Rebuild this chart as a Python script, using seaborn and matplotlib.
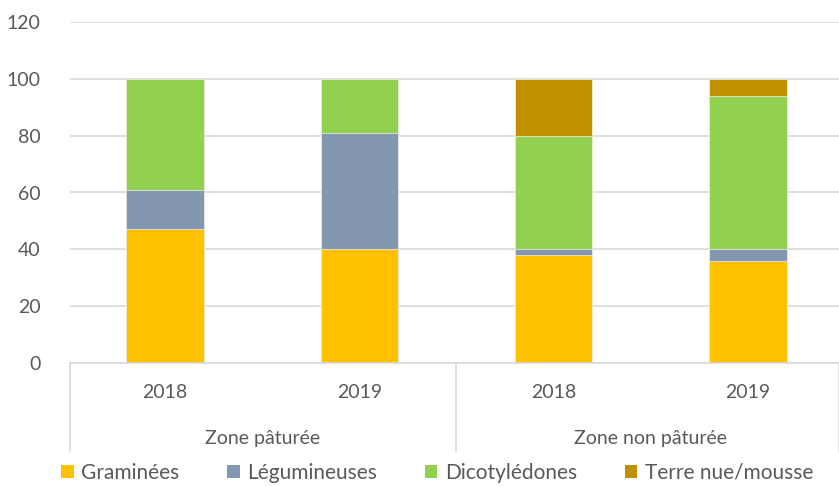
import numpy as np
import pandas as pd
import matplotlib
matplotlib.use("Agg")
import matplotlib.pyplot as plt
from matplotlib.patches import Patch
import seaborn as sns

# data
years = ["2018", "2019", "2018", "2019"]
zones = ["Zone pâturée", "Zone non pâturée"]
graminees = [47, 40, 38, 36]
legumineuses = [14, 41, 2, 4]
dicotyledones = [39, 19, 40, 54]
terre_nue = [0, 0, 20, 6]

series_names = ["Graminées", "Légumineuses", "Dicotylédones", "Terre nue/mousse"]
colors = ["#FFC000", "#8497B0", "#92D050", "#BF9000"]

sns.set_style("white")
plt.rcParams["font.family"] = ["Lato", "DejaVu Sans"]
text_color = "#595959"

fig = plt.figure(figsize=(8.39, 4.86), dpi=100)
ax = fig.add_axes([70 / 839, 123 / 486, 769 / 839, 341 / 486])

positions = ["p0", "p1", "p2", "p3"]
values = np.array([graminees, legumineuses, dicotyledones, terre_nue], dtype=float)
tops = np.cumsum(values, axis=0)

# stacked bars: draw cumulative totals from top layer down
for i in range(len(series_names) - 1, -1, -1):
    df = pd.DataFrame({"pos": positions, "val": tops[i]})
    sns.barplot(data=df, x="pos", y="val", color=colors[i], width=0.4,
                saturation=1, ax=ax, zorder=2, edgecolor="#F2F2F2", linewidth=0.5)

ax.set_ylim(0, 120)
ax.set_yticks(range(0, 121, 20))
ax.set_xlim(-0.49, 3.47)
ax.yaxis.grid(True, color="#D9D9D9", linewidth=1.2, zorder=0)
ax.set_axisbelow(True)
for s in ["top", "right", "left"]:
    ax.spines[s].set_visible(False)
ax.spines["bottom"].set_color("#D9D9D9")
ax.spines["bottom"].set_linewidth(1.2)
ax.set_xlabel("")
ax.set_ylabel("")
ax.tick_params(axis="y", length=0, labelsize=14, labelcolor=text_color, pad=21)
ax.set_xticks(range(4))
ax.set_xticklabels(years)
ax.tick_params(axis="x", length=0, labelsize=14, labelcolor=text_color, pad=15)

# group separators and group labels
trans = ax.get_xaxis_transform()
for xv in [-0.49, 1.5, 3.47]:
    ax.plot([xv, xv], [0, -0.26], transform=trans, color="#D9D9D9",
            linewidth=1.2, clip_on=False)
ax.text(0.5, -0.222, zones[0], transform=trans, ha="center", va="center",
        fontsize=14, color=text_color)
ax.text(2.5, -0.222, zones[1], transform=trans, ha="center", va="center",
        fontsize=14, color=text_color)

handles = [Patch(facecolor=c, edgecolor="none") for c in colors]
fig.legend(handles, series_names, loc="center", bbox_to_anchor=(0.521, 0.027),
           ncol=4, frameon=False, fontsize=15, labelcolor=text_color,
           handlelength=0.6, handleheight=0.6, handletextpad=0.35,
           columnspacing=2.3)

fig.savefig("out.png", dpi=100)
